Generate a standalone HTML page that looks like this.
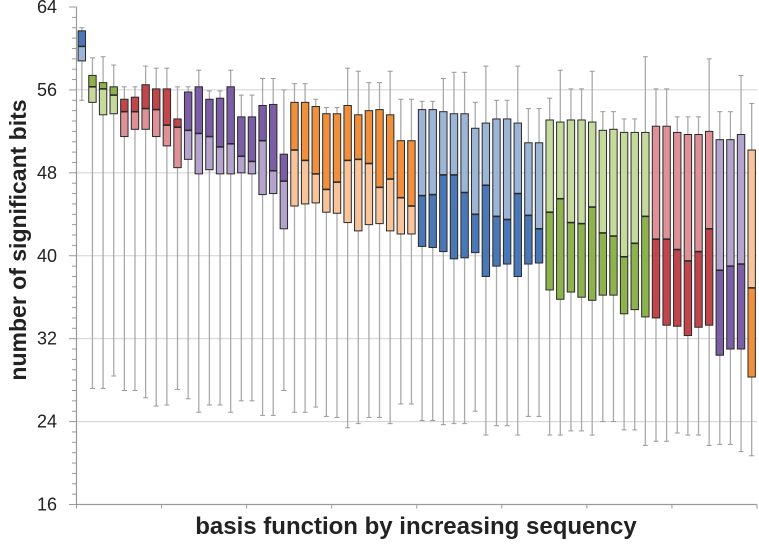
<!DOCTYPE html>
<html><head><meta charset="utf-8"><style>
body{margin:0;background:#fff;}
svg{display:block;font-family:"Liberation Sans",sans-serif;}
</style></head><body>
<svg id="chart" width="759" height="544"></svg>
<script>
const groups = ["blue","green","green","green","red","red","red","red","red","red","purple","purple","purple","purple","purple","purple","purple","purple","purple","purple","orange","orange","orange","orange","orange","orange","orange","orange","orange","orange","orange","orange","blue","blue","blue","blue","blue","blue","blue","blue","blue","blue","blue","blue","green","green","green","green","green","green","green","green","green","green","red","red","red","red","red","red","purple","purple","purple","orange"];
const whiskerMax = [62.0,59.1,59.2,58.4,56.3,56.3,58.3,58.1,58.1,56.3,56.3,57.9,55.9,55.9,57.9,55.5,55.5,57.1,57.1,56.0,56.6,56.6,55.1,54.3,54.3,58.1,57.8,56.7,56.7,57.8,55.1,55.1,54.9,54.9,57.1,57.7,57.7,54.8,58.3,55.0,55.0,58.3,54.2,54.2,55.2,57.9,56.1,56.1,57.8,53.9,53.9,53.2,53.2,59.2,56.1,56.1,53.4,53.4,53.4,59.0,53.9,53.9,57.4,54.7];
const q3 = [61.7,57.4,56.7,56.3,55.1,55.3,56.5,56.1,56.1,53.2,55.8,56.3,55.1,55.2,56.3,53.4,53.4,54.5,54.6,49.8,54.8,54.8,54.4,53.7,53.7,54.5,53.6,54.0,54.1,53.6,51.1,51.1,54.1,54.1,53.9,53.7,53.7,52.3,52.8,53.2,53.2,52.8,50.9,50.9,53.1,52.9,53.1,53.1,52.9,52.1,52.2,51.9,51.9,51.9,52.5,52.5,51.9,51.7,51.7,52.0,51.2,51.2,51.7,50.2];
const median = [60.2,56.3,56.1,55.5,53.9,53.9,54.2,54.1,52.6,52.4,52.1,51.8,51.5,50.5,50.8,49.6,49.1,51.1,48.2,47.2,50.2,49.2,47.9,46.4,47.1,49.2,49.3,48.9,46.6,47.4,45.6,44.8,45.8,45.9,47.8,47.8,46.1,44.0,46.8,43.8,43.5,46.0,43.9,42.6,44.2,45.5,43.2,43.1,44.7,42.2,41.9,39.9,41.2,43.8,41.6,41.6,40.6,39.5,40.4,42.6,38.6,39.0,39.2,36.9];
const q1 = [58.8,54.8,53.6,53.7,51.5,52.2,52.2,51.5,50.6,48.5,49.3,47.9,48.3,47.9,47.9,48.0,47.9,45.9,46.0,42.6,44.8,45.0,45.1,44.2,44.1,43.2,42.4,43.0,43.1,42.4,42.1,42.1,40.9,40.8,40.4,39.7,39.8,40.3,38.0,39.0,39.2,38.0,39.2,39.3,36.7,35.8,36.5,36.0,35.7,36.2,36.2,34.4,34.8,34.1,34.0,33.3,33.2,32.3,33.1,33.3,30.4,31.0,31.0,28.3];
const whiskerMin = [55.0,27.2,27.2,28.4,27.0,27.0,26.3,25.5,25.6,27.1,26.2,24.9,25.6,25.6,24.9,26.0,26.0,24.6,24.6,27.0,24.9,24.9,25.4,24.5,24.4,23.4,23.8,24.4,24.4,23.8,25.7,25.7,24.1,24.1,23.7,23.8,23.8,25.0,22.7,23.6,23.6,22.7,24.5,24.5,22.7,22.7,23.1,23.1,22.7,24.0,24.0,23.2,23.2,21.7,22.1,22.1,22.9,22.7,22.7,21.7,21.8,21.8,21.1,20.7];
const yTicks = [16,24,32,40,48,56,64];

const colors = {
  blue:{d:"#4a78b6",l:"#9db6d8"},
  green:{d:"#8eb24c",l:"#c6da9c"},
  red:{d:"#c1464b",l:"#de9196"},
  purple:{d:"#7b5ea6",l:"#b4a3cd"},
  orange:{d:"#f08f3c",l:"#f8c49b"}
};
const NS="http://www.w3.org/2000/svg";
const svg=document.getElementById('chart');
const X0=76.5, X1=757, YTOP=7, YBOT=504.5, YMIN=16, YMAX=64;
const n=groups.length;
const step=(X1-X0)/n;
function y(v){return YBOT-(v-YMIN)/(YMAX-YMIN)*(YBOT-YTOP);}
function x(i){return X0+step*(i+0.5);}
function mk(tag,attrs){const e=document.createElementNS(NS,tag);for(const k in attrs)e.setAttribute(k,attrs[k]);svg.appendChild(e);return e;}

yTicks.forEach(t=>{
  if(t>YMIN && t<YMAX){
    const g=mk('line',{x1:X0,x2:X1,y1:y(t),y2:y(t),stroke:'#d0d0d0','stroke-width':1});
    
    
  }
});
for(let v=YMIN; v<=YMAX; v++){
  const major=yTicks.includes(v);
  const tk=mk('line',{x1:major?69:72,x2:X0,y1:y(v),y2:y(v),stroke:'#999','stroke-width':1});
  
  
}
yTicks.forEach(t=>{
  const tx=mk('text',{x:57,y:y(t)+6,'text-anchor':'end','font-size':18,fill:'#222'});
  tx.textContent=t;
  
  
});
const ya=mk('line',{x1:X0,x2:X0,y1:YTOP,y2:YBOT,stroke:'#999','stroke-width':1.2});


const xa=mk('line',{x1:X0,x2:X1,y1:YBOT,y2:YBOT,stroke:'#999','stroke-width':1.2});


for(let i=0;i<=n;i+=8){
  const t=mk('line',{x1:X0+step*i,x2:X0+step*i,y1:YBOT,y2:YBOT+4,stroke:'#999','stroke-width':1});
  
  
}
const rightSide=32;
for(let i=0;i<n;i++){
  const cx=x(i), c=colors[groups[i]];
  const g=document.createElementNS(NS,'g');svg.appendChild(g);
  
  
  const add=(tag,a)=>{const e=document.createElementNS(NS,tag);for(const k in a)e.setAttribute(k,a[k]);g.appendChild(e);return e;};
  add('line',{x1:cx,x2:cx,y1:y(whiskerMax[i]),y2:y(whiskerMin[i]),stroke:'#aaa','stroke-width':1.3});
  add('line',{x1:cx-2.5,x2:cx+2.5,y1:y(whiskerMax[i]),y2:y(whiskerMax[i]),stroke:'#999','stroke-width':1});
  add('line',{x1:cx-2.5,x2:cx+2.5,y1:y(whiskerMin[i]),y2:y(whiskerMin[i]),stroke:'#999','stroke-width':1});
  const w=7.4;
  const topC=i<rightSide?c.d:c.l, botC=i<rightSide?c.l:c.d;
  add('rect',{x:cx-w/2,y:y(q3[i]),width:w,height:y(median[i])-y(q3[i]),fill:topC});
  add('rect',{x:cx-w/2,y:y(median[i]),width:w,height:y(q1[i])-y(median[i]),fill:botC});
  add('rect',{x:cx-w/2,y:y(q3[i]),width:w,height:y(q1[i])-y(q3[i]),fill:'none',stroke:'#2a2a2a','stroke-width':1});
  add('line',{x1:cx-w/2,x2:cx+w/2,y1:y(median[i]),y2:y(median[i]),stroke:'#2a2a2a','stroke-width':1.6});
}
const yt=mk('text',{x:0,y:0,transform:'translate(26,240) rotate(-90)','text-anchor':'middle','font-size':23,'font-weight':'bold',fill:'#222'});
yt.textContent='number of significant bits';


const xt=mk('text',{x:416,y:534,'text-anchor':'middle','font-size':24,'font-weight':'bold',fill:'#222'});
xt.textContent='basis function by increasing sequency';


</script>
</body></html>
